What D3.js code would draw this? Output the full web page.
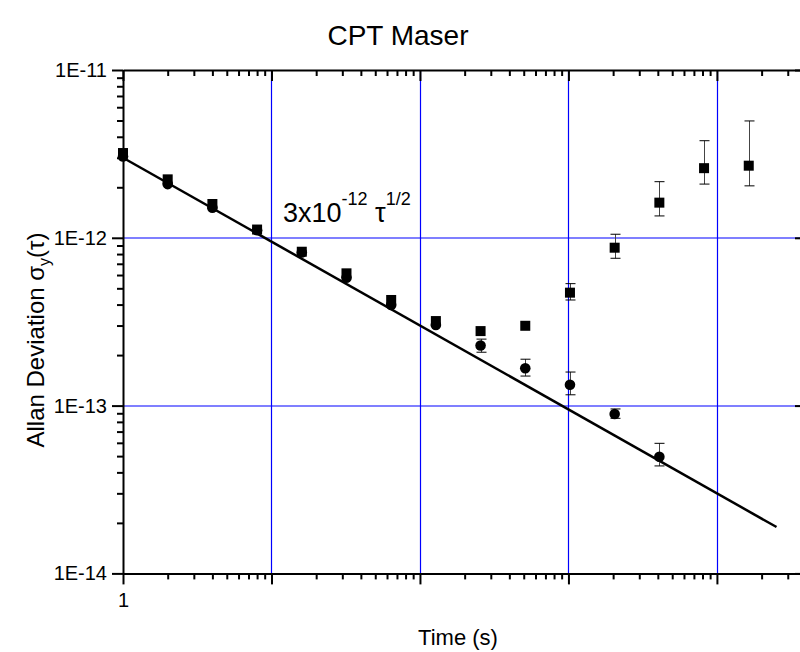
<!DOCTYPE html>
<html>
<head>
<meta charset="utf-8">
<script src="https://cdn.jsdelivr.net/npm/d3@7"></script>
<style>
  html, body { margin: 0; padding: 0; background: #fff; }
  svg { display: block; font-family: Arial, "Liberation Sans", sans-serif; }
</style>
</head>
<body>
<svg id="chart" width="800" height="652"></svg>
<script>
/* ---------------- DATA ---------------- */
const tauSquares = [1, 2, 4, 8, 16, 32, 64, 128, 256, 512, 1024, 2048, 4096, 8192, 16384];
const adevSquares = [3.2e-12, 2.23e-12, 1.59e-12, 1.12e-12, 8.26e-13, 6.14e-13, 4.26e-13, 3.19e-13,
  2.78e-13, 2.99e-13, 4.71e-13, 8.73e-13, 1.62e-12, 2.6e-12, 2.69e-12];
const errLoSquares = [null, null, null, null, null, null, null, null, null, null,
  4.26e-13, 7.55e-13, 1.35e-12, 2.09e-12, 2.04e-12];
const errHiSquares = [null, null, null, null, null, null, null, null, null, null,
  5.33e-13, 1.05e-12, 2.16e-12, 3.79e-12, 4.97e-12];

const tauCircles = [1, 2, 4, 8, 16, 32, 64, 128, 256, 512, 1024, 2048, 4096];
const adevCircles = [3.05e-12, 2.09e-12, 1.51e-12, 1.11e-12, 8.17e-13, 5.78e-13, 3.98e-13, 3.02e-13,
  2.28e-13, 1.67e-13, 1.33e-13, 8.91e-14, 4.96e-14];
const errLoCircles = [null, null, null, null, null, null, null, null,
  2.08e-13, 1.5e-13, 1.16e-13, 8.4e-14, 4.37e-14];
const errHiCircles = [null, null, null, null, null, null, null, null,
  2.49e-13, 1.89e-13, 1.585e-13, 9.55e-14, 5.96e-14];

// fit line 3e-12 * tau^-1/2, drawn between these two taus
const fitTau = [1, 25200];
const fitCoeff = 3e-12;

const xMajor = [1, 10, 100, 1000, 10000];
const yMajor = [1e-14, 1e-13, 1e-12, 1e-11];

/* ---------------- SETUP ---------------- */
const svg = d3.select("#chart");
const plotLeft = 123, plotRight = 806, plotTop = 70, plotBottom = 573.4;
const FONT = "Arial, 'Liberation Sans', sans-serif";

const x = d3.scaleLog().domain([1, Math.pow(10, 4.6)]).range([plotLeft, plotRight]);
const y = d3.scaleLog().domain([1e-14, 1e-11]).range([plotBottom, plotTop]);

const minorOf = majors => majors.slice(0, -1).flatMap(m => d3.range(2, 10).map(k => k * m));
const xMinor = minorOf(xMajor).concat([2e4, 3e4]);
const yMinor = minorOf(yMajor);
const isMajor = (majors, d) => majors.some(m => Math.abs(m - d) / m < 1e-9);

/* ---------------- GRID ---------------- */
const grid = svg.append("g").attr("stroke", "#0000ff");
grid.selectAll(".vgrid").data(xMajor.slice(1)).enter().append("line")
  .attr("stroke-width", 1.2)
  .attr("x1", d => Math.round(x(d)) + 0.5).attr("x2", d => Math.round(x(d)) + 0.5)
  .attr("y1", plotTop).attr("y2", plotBottom);
grid.selectAll(".hgrid").data(yMajor.slice(1, -1)).enter().append("line")
  .attr("stroke-width", 1.2)
  .attr("x1", plotLeft).attr("x2", plotRight)
  .attr("y1", d => Math.round(y(d))).attr("y2", d => Math.round(y(d)));

/* ---------------- AXES ---------------- */
function styleAxis(g, majors, attr, sign) {
  g.select(".domain").attr("stroke", "#000").attr("stroke-width", 2);
  g.selectAll(".tick line").attr("stroke", "#000").attr("stroke-width", 2)
    .attr(attr, d => sign * (isMajor(majors, d) ? 11 : 6));
}

const fmtY = d => "1E" + Math.round(Math.log10(d));

const gLeft = svg.append("g").attr("transform", `translate(${plotLeft},0)`)
  .call(d3.axisLeft(y).tickValues(yMajor.concat(yMinor)).tickSizeOuter(0)
    .tickFormat(d => yMajor.includes(d) ? fmtY(d) : ""));
styleAxis(gLeft, yMajor, "x2", -1);
gLeft.selectAll("text").attr("font-size", 20).attr("fill", "#000").attr("x", -16)
  .attr("font-family", FONT);

const gRight = svg.append("g").attr("transform", `translate(${plotRight},0)`)
  .call(d3.axisLeft(y).tickValues(yMajor.concat(yMinor)).tickSizeOuter(0).tickFormat(""));
styleAxis(gRight, yMajor, "x2", -1);

const gBottom = svg.append("g").attr("transform", `translate(0,${plotBottom})`)
  .call(d3.axisBottom(x).tickValues(xMajor.concat(xMinor)).tickSizeOuter(0)
    .tickFormat(d => d === 1 ? "1" : ""));
styleAxis(gBottom, xMajor, "y2", 1);
gBottom.selectAll("text").attr("font-size", 20).attr("fill", "#000").attr("y", 19)
  .attr("font-family", FONT);

const gTop = svg.append("g").attr("transform", `translate(0,${plotTop})`)
  .call(d3.axisBottom(x).tickValues(xMajor.concat(xMinor)).tickSizeOuter(0).tickFormat(""));
styleAxis(gTop, xMajor, "y2", 1);

/* ---------------- FIT LINE ---------------- */
const line = d3.line().x(d => x(d)).y(d => y(fitCoeff / Math.sqrt(d)));
svg.append("path").datum(fitTau).attr("d", line)
  .attr("fill", "none").attr("stroke", "#000").attr("stroke-width", 2.5);

/* ---------------- ERROR BARS ---------------- */
function errorBars(taus, lo, hi) {
  const rows = taus.map((t, i) => ({ t, lo: lo[i], hi: hi[i] })).filter(d => d.lo != null);
  const g = svg.append("g").attr("stroke", "#000").attr("stroke-width", 1);
  rows.forEach(d => {
    const cx = Math.round(x(d.t)) + 0.5;
    g.append("line").attr("x1", cx).attr("x2", cx).attr("y1", y(d.hi)).attr("y2", y(d.lo)).attr("stroke", "#444");
    [d.lo, d.hi].forEach(v => {
      g.append("line").attr("x1", cx - 5).attr("x2", cx + 5).attr("y1", y(v)).attr("y2", y(v));
    });
  });
}
errorBars(tauSquares, errLoSquares, errHiSquares);
errorBars(tauCircles, errLoCircles, errHiCircles);

/* ---------------- MARKERS ---------------- */
svg.append("g").selectAll("rect").data(tauSquares).enter().append("rect")
  .attr("x", d => x(d) - 5).attr("y", (d, i) => y(adevSquares[i]) - 5)
  .attr("width", 10).attr("height", 10).attr("fill", "#000");

svg.append("g").selectAll("circle").data(tauCircles).enter().append("circle")
  .attr("cx", d => x(d)).attr("cy", (d, i) => y(adevCircles[i]))
  .attr("r", 5.3).attr("fill", "#000");

/* ---------------- TEXT ---------------- */
svg.append("text").attr("x", 398).attr("y", 45).attr("text-anchor", "middle")
  .attr("font-size", 28).text("CPT Maser");

svg.append("text").attr("x", 458).attr("y", 645).attr("text-anchor", "middle")
  .attr("font-size", 22).text("Time (s)");

const yl = svg.append("text").attr("transform", "translate(44,340) rotate(-90)")
  .attr("text-anchor", "middle").attr("font-size", 24);
yl.append("tspan").text("Allan Deviation \u03c3");
yl.append("tspan").attr("font-size", 16).attr("dy", 6).text("y");
yl.append("tspan").attr("dy", -6).text("(\u03c4)");

const ann = svg.append("text").attr("x", 283).attr("y", 222).attr("font-size", 27);
ann.append("tspan").text("3x10");
ann.append("tspan").attr("font-size", 18).attr("dy", -17).text("-12");
ann.append("tspan").attr("dy", 17).text(" \u03c4");
ann.append("tspan").attr("font-size", 18).attr("dy", -17).text("1/2");
</script>
</body>
</html>
